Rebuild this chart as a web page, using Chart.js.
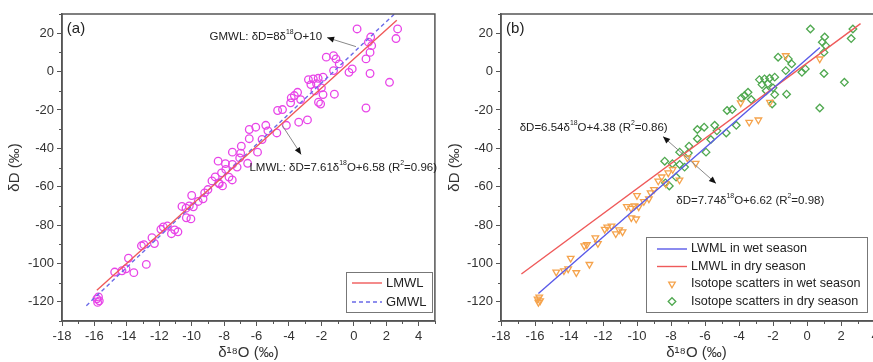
<!DOCTYPE html>
<html>
<head>
<meta charset="utf-8">
<script src="https://cdn.jsdelivr.net/npm/chart.js@4"></script>
<style>
  html, body { margin: 0; padding: 0; background: #fff; }
  body { width: 873px; height: 362px; overflow: hidden; position: relative; }
  #boxA { position: absolute; left: 0; top: 0; width: 440px; height: 362px; }
  #boxB { position: absolute; left: 440px; top: 0; width: 460px; height: 362px; }
</style>
</head>
<body>
<div id="boxA"><canvas id="chartA" width="440" height="362"></canvas></div>
<div id="boxB"><canvas id="chartB" width="460" height="362"></canvas></div>
<script>
// isotope samples: [d18O, dD]
const wetPts = [
  [-15.85, -118.5], [-15.7, -119.5], [-15.75, -117.5], [-15.8, -120.3],
  [-14.75, -104.5], [-14.3, -103.8], [-14.05, -102.8], [-13.9, -97.3], [-13.57, -104.8],
  [-13.1, -90.8], [-12.95, -90.2], [-12.8, -100.5], [-12.45, -86.6], [-12.3, -89.6],
  [-11.9, -82.2], [-11.75, -81], [-11.5, -80.5], [-11.25, -84.5], [-11.05, -82.5], [-10.85, -83.5],
  [-10.6, -70.3], [-10.35, -71.2], [-10.33, -76.2], [-10.05, -76.8], [-10.15, -70], [-10.0, -64.6],
  [-9.9, -70.5], [-9.6, -67.7], [-9.3, -66.3], [-9.2, -63.2], [-9.0, -61.5], [-8.75, -57],
  [-8.55, -54.9], [-8.3, -58.5], [-8.16, -52.8], [-7.9, -51], [-7.5, -56.5], [-7.04, -45], [-6.55, -47.8],
  [-3.9, -16.3], [-3.4, -26.4], [-2.86, -25.2], [-2.18, -16], [-1.25, 8.3], [0.75, 6.6]
];
const dryPts = [
  [0.2, 22.2], [1.04, 18], [0.9, 15.3], [1.1, 13.5], [1.0, 10], [2.7, 22.2], [2.6, 17.2],
  [-1.7, 7.5], [-1.1, 6.6], [-0.9, 4], [-1.25, 0.5], [-0.3, -0.4], [-0.1, 1.4], [1.0, -1],
  [2.2, -5.6], [0.75, -19], [-1.2, -11.8],
  [-2.8, -4.2], [-2.5, -3.8], [-2.2, -3.5], [-1.9, -2.9], [-2.65, -6.8], [-2.3, -6.3],
  [-2.0, -8.5], [-1.9, -12], [-2.05, -16.9], [-2.4, -10],
  [-3.47, -10.8], [-3.67, -12.5], [-3.28, -14.6], [-3.86, -13.7],
  [-4.16, -28], [-4.7, -20.3], [-4.4, -19.8], [-4.75, -32], [-5.43, -28], [-5.3, -30.9],
  [-5.66, -35.4], [-5.94, -42], [-6.05, -29], [-6.45, -30.2], [-6.45, -35], [-6.94, -38.9],
  [-6.98, -42.5], [-7.49, -42],
  [-8.37, -46.7], [-7.92, -48], [-7.49, -48.4], [-7.2, -49.8], [-7.7, -55], [-8.33, -58], [-8.1, -59.6]
];

// fitted lines, end points as drawn
const lmwlLine = [[-15.85, -114], [2.65, 26.7]];
const gmwlLine = [[-16.5, -122], [2.5, 30]];
const wetLine = [[-15.8, -115.7], [0.76, 12.5]];
const dryLine = [[-16.8, -105.5], [3.15, 25]];

// axes: range, labelled ticks, minor tick step
const xRange = [-18, 5];
const xTickVals = [-18, -16, -14, -12, -10, -8, -6, -4, -2, 0, 2, 4];
const xMinor = 1;
const yRange = [-130, 30];
const yTickVals = [-120, -100, -80, -60, -40, -20, 0, 20];
const yMinor = 10;

const FONT = '"Liberation Sans", Arial, sans-serif';
const AXIS_COLOR = '#555';
const TEXT_COLOR = '#333';

const toXY = pts => pts.map(p => ({ x: p[0], y: p[1] }));

function richText(ctx, str, x, y, size) {
  // "^{..}" marks a superscript
  const parts = str.split(/(\^\{[^}]*\})/);
  let cx = x;
  parts.forEach(p => {
    if (!p) return;
    if (p.startsWith('^{')) {
      const t = p.slice(2, -1);
      ctx.font = (size * 0.6).toFixed(1) + 'px ' + FONT;
      ctx.fillText(t, cx, y - size * 0.4);
      cx += ctx.measureText(t).width;
    } else {
      ctx.font = size + 'px ' + FONT;
      ctx.fillText(p, cx, y);
      cx += ctx.measureText(p).width;
    }
  });
}

function arrowHead(ctx, x1, y1, x2, y2) {
  const a = Math.atan2(y2 - y1, x2 - x1);
  const len = 7, w = 3;
  ctx.fillStyle = '#111';
  ctx.beginPath();
  ctx.moveTo(x2, y2);
  ctx.lineTo(x2 - len * Math.cos(a) + w * Math.sin(a), y2 - len * Math.sin(a) - w * Math.cos(a));
  ctx.lineTo(x2 - len * Math.cos(a) - w * Math.sin(a), y2 - len * Math.sin(a) + w * Math.cos(a));
  ctx.closePath();
  ctx.fill();
}

const decoPlugin = {
  id: 'deco',
  afterDraw(chart, args, opts) {
    const ctx = chart.ctx;
    const xs = chart.scales.x, ys = chart.scales.y;
    const area = chart.chartArea;
    ctx.save();

    // frame
    ctx.strokeStyle = AXIS_COLOR;
    ctx.lineWidth = 1.5;
    ctx.strokeRect(area.left, area.top, area.right - area.left, area.bottom - area.top);

    // minor ticks
    ctx.lineWidth = 1;
    ctx.beginPath();
    for (let v = xRange[0]; v <= xRange[1]; v += xMinor) {
      if (xTickVals.includes(v)) continue;
      const px = Math.round(xs.getPixelForValue(v)) + 0.5;
      ctx.moveTo(px, area.bottom);
      ctx.lineTo(px, area.bottom + 3);
    }
    for (let v = yRange[0]; v <= yRange[1]; v += yMinor) {
      if (yTickVals.includes(v)) continue;
      const py = Math.round(ys.getPixelForValue(v)) + 0.5;
      ctx.moveTo(area.left, py);
      ctx.lineTo(area.left - 3, py);
    }
    ctx.stroke();

    // panel label
    ctx.fillStyle = '#222';
    ctx.textBaseline = 'middle';
    ctx.textAlign = 'left';
    ctx.font = '15px ' + FONT;
    ctx.fillText(opts.label, xs.getPixelForValue(-17.7), ys.getPixelForValue(22.4));

    // annotations
    (opts.notes || []).forEach(n => {
      ctx.fillStyle = '#222';
      richText(ctx, n.text, xs.getPixelForValue(n.x), ys.getPixelForValue(n.y), 11.5);
    });
    (opts.arrows || []).forEach(a => {
      const x1 = xs.getPixelForValue(a.from[0]), y1 = ys.getPixelForValue(a.from[1]);
      const x2 = xs.getPixelForValue(a.to[0]), y2 = ys.getPixelForValue(a.to[1]);
      ctx.strokeStyle = '#888';
      ctx.lineWidth = 1;
      ctx.beginPath();
      ctx.moveTo(x1, y1);
      ctx.lineTo(x2, y2);
      ctx.stroke();
      arrowHead(ctx, x1, y1, x2, y2);
      if (a.both) arrowHead(ctx, x2, y2, x1, y1);
    });

    // legend box
    const lg = opts.legend;
    ctx.fillStyle = '#fff';
    ctx.fillRect(lg.x, lg.y, lg.w, lg.h);
    ctx.strokeStyle = '#777';
    ctx.lineWidth = 1;
    ctx.strokeRect(lg.x + 0.5, lg.y + 0.5, lg.w, lg.h);
    lg.rows.forEach((r, i) => {
      const ds = chart.data.datasets[r.ds];
      const cy = lg.y + lg.first + i * lg.gap;
      const mx = lg.x + lg.sym;
      ctx.strokeStyle = ds.borderColor;
      ctx.lineWidth = ds.borderWidth;
      if (ds.showLine) {
        ctx.setLineDash(ds.borderDash || []);
        ctx.beginPath();
        ctx.moveTo(mx - 15, cy);
        ctx.lineTo(mx + 15, cy);
        ctx.stroke();
        ctx.setLineDash([]);
      } else {
        ctx.fillStyle = 'rgba(0,0,0,0)';
        Chart.helpers.drawPoint(ctx, {
          pointStyle: ds.pointStyle, rotation: ds.rotation || 0, radius: ds.pointRadius,
          borderWidth: ds.borderWidth
        }, mx, cy);
      }
      ctx.fillStyle = '#222';
      ctx.font = lg.font + 'px ' + FONT;
      ctx.textBaseline = 'middle';
      ctx.fillText(ds.label, lg.x + lg.text, cy);
    });
    ctx.restore();
  }
};

function scales(yWidth) {
  return {
    x: {
      type: 'linear', min: xRange[0], max: xRange[1],
      afterBuildTicks: s => { s.ticks = xTickVals.map(v => ({ value: v })); },
      ticks: { color: TEXT_COLOR, padding: 3, maxRotation: 0, font: { size: 13, family: FONT } },
      grid: { drawOnChartArea: false, drawTicks: true, tickLength: 5, color: AXIS_COLOR, lineWidth: 1 },
      border: { color: AXIS_COLOR, width: 1.5 },
      title: { display: true, text: 'δ¹⁸O (‰)', color: TEXT_COLOR, font: { size: 15, family: FONT },
               padding: { top: 0, bottom: 0 } },
      afterFit: s => { s.height = 41; }
    },
    y: {
      type: 'linear', min: yRange[0], max: yRange[1],
      afterBuildTicks: s => { s.ticks = yTickVals.map(v => ({ value: v })); },
      ticks: { color: TEXT_COLOR, padding: 3, font: { size: 13, family: FONT } },
      grid: { drawOnChartArea: false, drawTicks: true, tickLength: 5, color: AXIS_COLOR, lineWidth: 1 },
      border: { color: AXIS_COLOR, width: 1.5 },
      title: { display: true, text: 'δD (‰)', color: TEXT_COLOR, font: { size: 15, family: FONT },
               padding: { top: 6, bottom: 0 } },
      afterFit: s => { s.width = yWidth; }
    }
  };
}

function lineSet(label, pts, color, dash) {
  return {
    type: 'line', label: label, data: toXY(pts), showLine: true, borderColor: color,
    borderWidth: 1.4, borderDash: dash || [], pointRadius: 0, fill: false
  };
}

function pointSet(label, pts, color, style, rot) {
  return {
    type: 'scatter', label: label, data: toXY(pts), showLine: false, borderColor: color,
    backgroundColor: 'rgba(0,0,0,0)', borderWidth: 1.3, pointStyle: style, rotation: rot || 0,
    pointRadius: 3.8, pointHoverRadius: 3.8
  };
}

// panel (a): all samples with LMWL and GMWL
new Chart(document.getElementById('chartA'), {
  type: 'scatter',
  data: {
    datasets: [
      lineSet('LMWL', lmwlLine, '#ef5a5a'),
      lineSet('GMWL', gmwlLine, '#6a6ae8', [4, 3]),
      pointSet('Isotope samples', wetPts.concat(dryPts), '#e845e8', 'circle')
    ]
  },
  options: {
    responsive: false, animation: false,
    layout: { padding: { left: 0, right: 5, top: 14, bottom: 0 } },
    plugins: {
      legend: { display: false }, tooltip: { enabled: false },
      deco: {
        label: '(a)',
        notes: [
          { text: 'GMWL: δD=8δ^{18}O+10', x: -8.9, y: 18.2 },
          { text: 'LMWL: δD=7.61δ^{18}O+6.58 (R^{2}=0.96)', x: -6.44, y: -50 }
        ],
        arrows: [
          { from: [0.13, 13], to: [-1.65, 17.7] },
          { from: [-4.42, -28], to: [-3.25, -43.2] }
        ],
        legend: { x: 346, y: 272, w: 86, h: 40, sym: 21, text: 40, first: 11, gap: 19, font: 13,
                  rows: [{ ds: 0 }, { ds: 1 }] }
      }
    },
    scales: scales(62)
  },
  plugins: [decoPlugin]
});

// panel (b): wet vs dry season
new Chart(document.getElementById('chartB'), {
  type: 'scatter',
  data: {
    datasets: [
      lineSet('LWML in wet season', wetLine, '#5a5ae8'),
      lineSet('LMWL in dry season', dryLine, '#ef5a5a'),
      pointSet('Isotope scatters in wet season', wetPts, '#f5a34c', 'triangle', 180),
      pointSet('Isotope scatters in dry season', dryPts, '#4fa84f', 'rectRot')
    ]
  },
  options: {
    responsive: false, animation: false,
    layout: { padding: { left: 0, right: 8, top: 14, bottom: 0 } },
    plugins: {
      legend: { display: false }, tooltip: { enabled: false },
      deco: {
        label: '(b)',
        notes: [
          { text: 'δD=6.54δ^{18}O+4.38 (R^{2}=0.86)', x: -16.9, y: -29.2 },
          { text: 'δD=7.74δ^{18}O+6.62 (R^{2}=0.98)', x: -7.69, y: -67.2 }
        ],
        arrows: [
          { from: [-5.35, -58.3], to: [-8.47, -33.9], both: true }
        ],
        legend: { x: 206, y: 237, w: 221, h: 75, sym: 26, text: 45, first: 12, gap: 17.5, font: 12.6,
                  rows: [{ ds: 0 }, { ds: 1 }, { ds: 2 }, { ds: 3 }] }
      }
    },
    scales: scales(61)
  },
  plugins: [decoPlugin]
});
</script>
</body>
</html>
